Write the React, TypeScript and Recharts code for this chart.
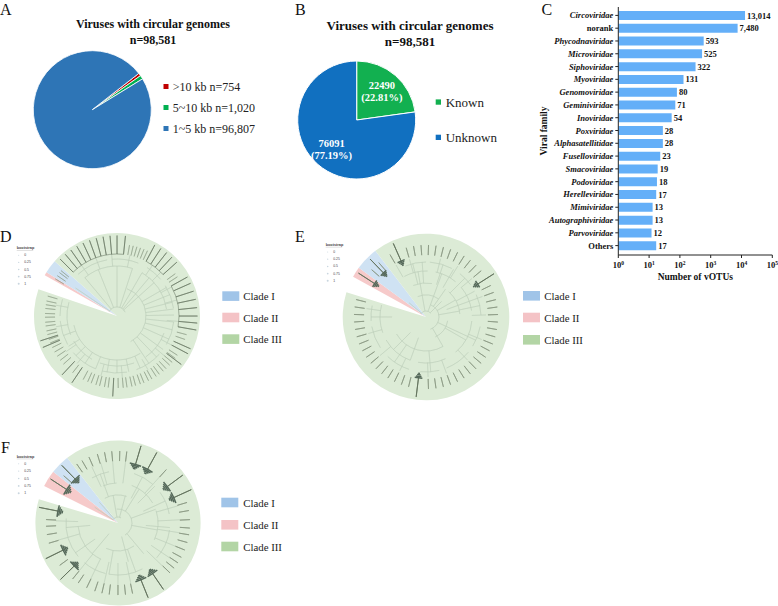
import { Bar, BarChart, Cell, LabelList, Pie, PieChart, XAxis, YAxis } from "recharts";

const SERIF = "'Liberation Serif', serif";
const SANS = "'Liberation Sans', sans-serif";
const NO_MARGIN = { top: 0, right: 0, bottom: 0, left: 0 };

// panel A
const sizeNames = [">10 kb n=754", "5~10 kb n=1,020", "1~5 kb n=96,807"];
const sizeValues = [754, 1020, 96807];
const sizeColors = ["#c00000", "#00b050", "#2e75b6"];

// panel B
const knownNames = ["Known", "Unknown"];
const knownValues = [22490, 76091];
const knownColors = ["#12b050", "#1170c0"];

// panel C
const families = [
  "Circoviridae", "norank", "Phycodnaviridae", "Microviridae", "Siphoviridae", "Myoviridae",
  "Genomoviridae", "Geminiviridae", "Inoviridae", "Poxviridae", "Alphasatellitidae", "Fuselloviridae",
  "Smacoviridae", "Podoviridae", "Herelleviridae", "Mimiviridae", "Autographiviridae", "Parvoviridae", "Others",
];
const familyCounts = [13014, 7480, 593, 525, 322, 131, 80, 71, 54, 28, 28, 23, 19, 18, 17, 13, 13, 12, 17];
const countTicks = [1, 10, 100, 1000, 10000, 100000];
const plainFamilies = ["norank", "Others"];

// panels D, E, F: clade wedges in degrees, clockwise: Clade II, Clade I, Clade III, gap
const cladeNames = ["Clade I", "Clade II", "Clade III"];
const wedgeColors = ["#f6caca", "#cfe2f3", "#dcebd6", "none"];
const swatchColors = ["#a0c4e8", "#f4c3c6", "#b3d5a5"];
const bootstrapLevels = ["0", "0.25", "0.5", "0.75", "1"];

const dWedges = [2.3, 9.5, 337.5, 10.7];
const eWedges = [7.3, 16.4, 324.6, 11.7];
const fWedges = [11.7, 13.8, 324.6, 9.9];

// tree tips, as math angles
const dShortTips = [149, 146, 143, 141, 80, 77, 74, 71, 68, 65, 36, 33, -15, -19, -33, -36, -40, -43, -47, -50, -54, -57, -61, -64, -68, -71, -75, -78, -82, -85, -89, -97, -100, -104, -107, -111, -114, -118, -128, -138, -142, -146, -150, -154, -158, -161, -165, -168, -172, -175, -179, -182, -186, -189, -192, -196];
const dLongTips = [135, 130, 125, 120, 115, 110, 105, 100, 95, 90, 84, 62, 57, 52, 47, 42, 29, 24, 18, 12, 6, 0, -5, -10, -24, -28, -37, -93, -124, -133, -157, -162];
const dArcs: [number, [number, number][]][] = [
  [9, [[150, 25]]],
  [29, [[70, -62]]],
  [44, [[-58, -168]]],
  [50, [[130, 72], [60, 8], [-20, -55], [-70, -110], [-120, -150], [-158, -196]]],
  [57, [[133, 100], [95, 68], [58, 40], [32, 8], [-6, -30], [-42, -70], [-80, -105], [-112, -140], [-150, -175], [-180, -197]]],
];
const dSpokes: [number, number, number[]][] = [
  [9, 50, [146, 130, 112, 90, 72, 60, 50, 42]],
  [29, 57, [30, 22, 14, 7, 1, -6, -14, -24, -36, -46, -56]],
  [44, 57, [-66, -78, -90, -100, -112, -124, -136, -148, -160]],
  [50, 62, [125, 110, 95, 78, 55, 45, 28, 15, -5, -28, -40, -60, -85, -105, -130, -145, -170, -190]],
];
const dDarkArcs: [number, number][] = [[135, 84], [62, 42], [29, -10]];

const eTips = [139, 131, 120, 106, 100, 94, 88, 82, 76, 70, 64, 58, 52, 46, 40, 26, 20, 14, 8, 2, -4, -10, -16, -22, -28, -34, -40, -46, -52, -58, -64, -70, -76, -82, -88, -104, -110, -116, -122, -128, -134, -140, -146, -152, -158, -164, -170, -176, -182, -188, -194];
const eLongTips = [147, 134, 114, 32.5, -97];
const eArcs: [number, [number, number][]][] = [
  [6, [[148, 40]]],
  [13, [[70, -70]]],
  [22, [[112, 55], [-10, -65]]],
  [34, [[112, 80], [48, 5], [-60, -150]]],
  [46, [[118, 88], [78, 50], [40, 8], [-5, -50], [-65, -100], [-110, -150], [-160, -195]]],
  [55, [[112, 90], [86, 62], [52, 36], [24, 2], [-10, -32], [-40, -68], [-76, -96], [-108, -134], [-146, -170], [-176, -192]]],
];
const eSpokes: [number, number, number[]][] = [
  [6, 22, [140, 100, 70, 45]],
  [13, 34, [55, 30, 10, -25, -60]],
  [22, 46, [100, 70, 20, -30, -110, -135]],
  [34, 55, [104, 94, 72, 60, 45, 28, 12, -25, -85, -125, -180]],
  [46, 60, [120, 106, 76, 58, 40, 20, 2, -22, -46, -70, -88, -116, -140, -164, -188]],
];
const eArrows = [147, 134, 114, 32.5, -97];

const fTips = [139, 125, 120, 113.8, 106.7, 100.8, 95, 88.6, 83, 47.9, 16.6, 10, 2.7, -4, -9.4, -15.7, -22, -28.4, -33.6, -38.8, -43.8, -78.3, -84, -90, -97, -102.9, -108.8, -115.8, -123.5, -129, -144, -163.7, -170.7, -177.4, -182.7];
const fLongTips = [146.9, 134.3, 73.4, 61.2, 36.5, 24.5, -191.2, -153.7, -135.5, -68, -55.6];
const fArcs: [number, [number, number][]][] = [
  [6, [[148, 60]]],
  [14, [[95, -60]]],
  [28, [[118, 72], [-55, -115]]],
  [40, [[112, 92], [70, 30], [18, -25], [-115, -175]]],
  [52, [[120, 100], [72, 48], [36, 10], [-8, -42], [-62, -100], [-104, -130], [-140, -185]]],
];
const fSpokes: [number, number, number[]][] = [
  [6, 28, [146, 132, 100, 75]],
  [14, 40, [58, 20, -10, -50, -75, -130]],
  [28, 52, [110, 62, 45, 25, -5, -70, -100, -145, -175]],
  [40, 62, [115, 106, 95, 83, 48, 16, 3, -9, -22, -34, -44, -78, -90, -103, -116, -129, -164, -182]],
];
const fArrows = [146.9, 134.3, 73.4, 61.2, 36.5, 24.5, -191.2, -153.7, -135.5, -68, -55.6];

const START = 155; // inside the white gap of every tree

type Slice = { value: number; on: boolean };

// Turns clockwise spans [from, to] into gap/span slices that add up to the full circle.
function toSlices(spans: [number, number][]): Slice[] {
  const ordered = spans
    .map(([from, to]) => ({ at: ((START - from) % 360 + 360) % 360, len: from - to }))
    .sort((a, b) => a.at - b.at);
  const slices: Slice[] = [];
  let pos = 0;
  ordered.forEach(({ at, len }) => {
    if (at > pos) slices.push({ value: at - pos, on: false });
    slices.push({ value: len, on: true });
    pos = at + len;
  });
  if (pos < 360) slices.push({ value: 360 - pos, on: false });
  return slices;
}

const lines = (angles: number[]) => angles.map((a) => [a, a - 0.05] as [number, number]);

function layer(key: string, spans: [number, number][], inner: number, outer: number, color: string, width: number, filled = false) {
  const slices = toSlices(spans);
  return (
    <Pie
      key={key}
      data={slices}
      dataKey="value"
      cx={90}
      cy={90}
      innerRadius={inner}
      outerRadius={outer}
      startAngle={START}
      endAngle={START - 360}
      stroke="none"
      isAnimationActive={false}
    >
      {slices.map((s, i) => (
        <Cell
          key={i}
          fill={filled && s.on ? color : "none"}
          stroke={!filled && s.on ? color : "none"}
          strokeWidth={width}
        />
      ))}
    </Pie>
  );
}

function Tree(props: any) {
  const { cx, cy, r, start, wedges, shortTips, longTips, arcs, spokes, darkArcs, arrows, arrowHalf, tipFrom, tipTo, tipWidth, longWidth } = props;
  const wedgeData = wedges.map((value: number) => ({ value }));
  const arrowBands = [0.25, 0.5, 0.75, 1];
  const branch = "#bccdb8";
  return (
    <div style={{ position: "absolute", left: cx - 90, top: cy - 90 }}>
      <PieChart width={180} height={180} margin={NO_MARGIN}>
        <Pie
          data={wedgeData}
          dataKey="value"
          cx={90}
          cy={90}
          innerRadius={0}
          outerRadius={r}
          startAngle={start}
          endAngle={start - 360}
          stroke="none"
          isAnimationActive={false}
        >
          {wedgeData.map((_: any, i: number) => (
            <Cell key={i} fill={wedgeColors[i]} />
          ))}
        </Pie>
        {arcs.map(([rad, spans]: any, i: number) => layer(`arc${i}`, spans, rad, rad + 0.01, branch, 0.4))}
        {spokes.map(([a, b, angles]: any, i: number) => layer(`spoke${i}`, lines(angles), a, b, branch, 0.4))}
        {darkArcs && layer("dark", darkArcs, 62, 62.01, "#7f8e79", 0.4)}
        {layer("tips", lines(shortTips), 62, tipTo, "#86957f", tipWidth)}
        {layer("long", lines(longTips), tipFrom, 80.5, "#64745f", longWidth)}
        {arrows &&
          arrowBands.map((f, i) =>
            layer(
              `arrow${i}`,
              arrows.map((a: number) => [a + arrowHalf * f, a - arrowHalf * f] as [number, number]),
              56 + i * 1.5,
              57.5 + i * 1.5,
              "#55695a",
              0,
              true,
            ),
          )}
      </PieChart>
    </div>
  );
}

function FamilyTick({ x, y, payload }: any) {
  return (
    <text
      x={x}
      y={y + 3}
      textAnchor="end"
      fontFamily={SERIF}
      fontWeight="bold"
      fontStyle={plainFamilies.includes(payload.value) ? "normal" : "italic"}
      fontSize={8.5}
      fill="#111"
    >
      {payload.value}
    </text>
  );
}

function CountTick({ x, y, payload }: any) {
  return (
    <text x={x} y={y + 9} textAnchor="middle" fontFamily={SERIF} fontWeight="bold" fontSize={8.5} fill="#111">
      10
      <tspan dy={-3} fontSize={5.5}>
        {Math.round(Math.log10(payload.value))}
      </tspan>
    </text>
  );
}

function KnownLabel({ cx, cy, midAngle, outerRadius, value }: any) {
  const rad = (midAngle * Math.PI) / 180;
  const dist = outerRadius * 0.65;
  const x = cx + dist * Math.cos(rad);
  const y = cy - dist * Math.sin(rad);
  const total = knownValues.reduce((a, b) => a + b, 0);
  return (
    <text x={x} textAnchor="middle" fontFamily={SERIF} fontWeight="bold" fontSize={10.5} fill="#fff">
      <tspan x={x} y={y - 2}>{value}</tspan>
      <tspan x={x} y={y + 10}>({((value / total) * 100).toFixed(2)}%)</tspan>
    </text>
  );
}

function Title({ x, y, size }: any) {
  return (
    <text x={x} textAnchor="middle" fontFamily={SERIF} fontWeight="bold" fontSize={size} fill="#111">
      <tspan x={x} y={y}>Viruses with circular genomes</tspan>
      <tspan x={x} y={y + 15.5}>n=98,581</tspan>
    </text>
  );
}

function PanelLetter({ x, y, children }: any) {
  return (
    <text x={x} y={y} fontFamily={SERIF} fontSize={16} fill="#111">
      {children}
    </text>
  );
}

function CladeKey({ swatchX, textX, rows }: any) {
  return (
    <g>
      {cladeNames.map((name, i) => (
        <g key={name}>
          <rect x={swatchX} y={rows[i] - 9} width={17} height={9.6} fill={swatchColors[i]} />
          <text x={textX} y={rows[i]} fontFamily={SERIF} fontSize={10.8} fill="#222">
            {name}
          </text>
        </g>
      ))}
    </g>
  );
}

function BootstrapKey({ x, y, gap }: any) {
  return (
    <g fontFamily={SANS} fill="#444">
      <text x={x} y={y} fontSize={3.8} fontWeight="bold">
        bootstrap
      </text>
      <line x1={x} x2={x + 16.5} y1={y + 1.2} y2={y + 1.2} stroke="#999" strokeWidth={0.3} />
      {bootstrapLevels.map((level, i) => (
        <g key={level}>
          <circle cx={x + 2} cy={y + 7 + i * gap - 1} r={0.5 + i * 0.12} fill="#c9d6df" />
          <text x={x + 7.5} y={y + 7 + i * gap} fontSize={3.4}>
            {level}
          </text>
        </g>
      ))}
    </g>
  );
}

export default function App() {
  const sizeData = sizeNames.map((name, i) => ({ name, value: sizeValues[i] }));
  const knownData = knownNames.map((name, i) => ({ name, value: knownValues[i] }));
  const familyData = families.map((name, i) => ({ name, value: familyCounts[i] }));

  return (
    <div style={{ position: "absolute", left: 0, top: 0, width: 778, height: 606, background: "#fff", overflow: "hidden" }}>
      <div style={{ position: "absolute", left: 22, top: 40 }}>
        <PieChart width={140} height={140} margin={NO_MARGIN}>
          <Pie
            data={sizeData}
            dataKey="value"
            cx={70.3}
            cy={69.7}
            innerRadius={0}
            outerRadius={59}
            startAngle={38}
            endAngle={-322}
            stroke="#fff"
            strokeWidth={0.8}
            isAnimationActive={false}
          >
            {sizeData.map((_, i) => (
              <Cell key={i} fill={sizeColors[i]} />
            ))}
          </Pie>
        </PieChart>
      </div>

      <div style={{ position: "absolute", left: 287, top: 50 }}>
        <PieChart width={140} height={140} margin={NO_MARGIN}>
          <Pie
            data={knownData}
            dataKey="value"
            cx={69.7}
            cy={70}
            innerRadius={0}
            outerRadius={59}
            startAngle={90}
            endAngle={-270}
            stroke="#fff"
            strokeWidth={1}
            label={KnownLabel}
            labelLine={false}
            isAnimationActive={false}
          >
            {knownData.map((_, i) => (
              <Cell key={i} fill={knownColors[i]} />
            ))}
          </Pie>
        </PieChart>
      </div>

      <div style={{ position: "absolute", left: 520, top: 0 }}>
        <BarChart
          width={258}
          height={290}
          data={familyData}
          layout="vertical"
          barSize={9}
          margin={{ top: 7, right: 5.7, bottom: 0, left: 0 }}
        >
          <XAxis
            type="number"
            scale="log"
            domain={[1, 100000]}
            ticks={countTicks}
            interval={0}
            allowDataOverflow
            height={35}
            tick={<CountTick />}
            tickSize={3}
            tickMargin={1}
            stroke="#222"
            label={{
              value: "Number of vOTUs",
              position: "insideBottom",
              offset: 10,
              style: { fontFamily: SERIF, fontWeight: "bold", fontSize: 9.5, fill: "#111" },
            }}
          />
          <YAxis
            type="category"
            dataKey="name"
            width={98.3}
            interval={0}
            padding={{ top: 2, bottom: 3 }}
            tick={<FamilyTick />}
            tickSize={3}
            tickMargin={2}
            stroke="#222"
            label={{
              value: "Viral family",
              angle: -90,
              position: "insideLeft",
              offset: 24,
              style: { fontFamily: SERIF, fontWeight: "bold", fontSize: 9.5, fill: "#111", textAnchor: "middle" },
            }}
          />
          <Bar dataKey="value" fill="#64aff8" isAnimationActive={false}>
            <LabelList
              dataKey="value"
              position="right"
              offset={2}
              formatter={(v: any) => Number(v).toLocaleString("en-US")}
              style={{ fontFamily: SERIF, fontWeight: "bold", fontSize: 8.5, fill: "#111" }}
            />
          </Bar>
        </BarChart>
      </div>

      <Tree
        cx={117}
        cy={316.3}
        r={83}
        start={150.5}
        wedges={dWedges}
        shortTips={dShortTips}
        longTips={dLongTips}
        arcs={dArcs}
        spokes={dSpokes}
        darkArcs={dDarkArcs}
        tipFrom={62}
        tipTo={72}
        tipWidth={0.45}
        longWidth={0.6}
      />
      <Tree
        cx={426}
        cy={316.7}
        r={83.3}
        start={151.1}
        wedges={eWedges}
        shortTips={eTips}
        longTips={eLongTips}
        arcs={eArcs}
        spokes={eSpokes}
        arrows={eArrows}
        arrowHalf={3.6}
        tipFrom={60}
        tipTo={72}
        tipWidth={0.7}
        longWidth={0.9}
      />
      <Tree
        cx={118.2}
        cy={523.3}
        r={82.6}
        start={153.4}
        wedges={fWedges}
        shortTips={fTips}
        longTips={fLongTips}
        arcs={fArcs}
        spokes={fSpokes}
        arrows={fArrows}
        arrowHalf={5.5}
        tipFrom={60}
        tipTo={72}
        tipWidth={0.7}
        longWidth={0.9}
      />

      <svg width={778} height={606} style={{ position: "absolute", left: 0, top: 0, pointerEvents: "none" }}>
        <PanelLetter x={0} y={15}>A</PanelLetter>
        <PanelLetter x={295} y={15}>B</PanelLetter>
        <PanelLetter x={541.5} y={15}>C</PanelLetter>
        <PanelLetter x={0} y={241.7}>D</PanelLetter>
        <PanelLetter x={295} y={241.7}>E</PanelLetter>
        <PanelLetter x={1} y={452.7}>F</PanelLetter>

        <Title x={153} y={28} size={12} />
        <Title x={410} y={30} size={13} />

        {sizeNames.map((name, i) => (
          <g key={name}>
            <rect x={163.5} y={84 + i * 21} width={5} height={5} fill={sizeColors[i]} />
            <text x={172.7} y={90.5 + i * 21} fontFamily={SERIF} fontSize={12} fill="#222">
              {name}
            </text>
          </g>
        ))}
        {knownNames.map((name, i) => (
          <g key={name}>
            <rect x={435.7} y={99.4 + i * 35.3} width={5.3} height={5.3} fill={knownColors[i]} />
            <text x={445.7} y={106.5 + i * 35.3} fontFamily={SERIF} fontSize={13} fill="#222">
              {name}
            </text>
          </g>
        ))}

        <CladeKey swatchX={222.3} textX={243.3} rows={[300.3, 321.7, 343.3]} />
        <CladeKey swatchX={523} textX={544.3} rows={[300, 321.7, 344]} />
        <CladeKey swatchX={221.3} textX={243.3} rows={[506.7, 529, 550.7]} />

        <BootstrapKey x={16.7} y={249.3} gap={7.1} />
        <BootstrapKey x={325.7} y={246} gap={7.2} />
        <BootstrapKey x={16.7} y={457.7} gap={7.4} />
      </svg>
    </div>
  );
}
